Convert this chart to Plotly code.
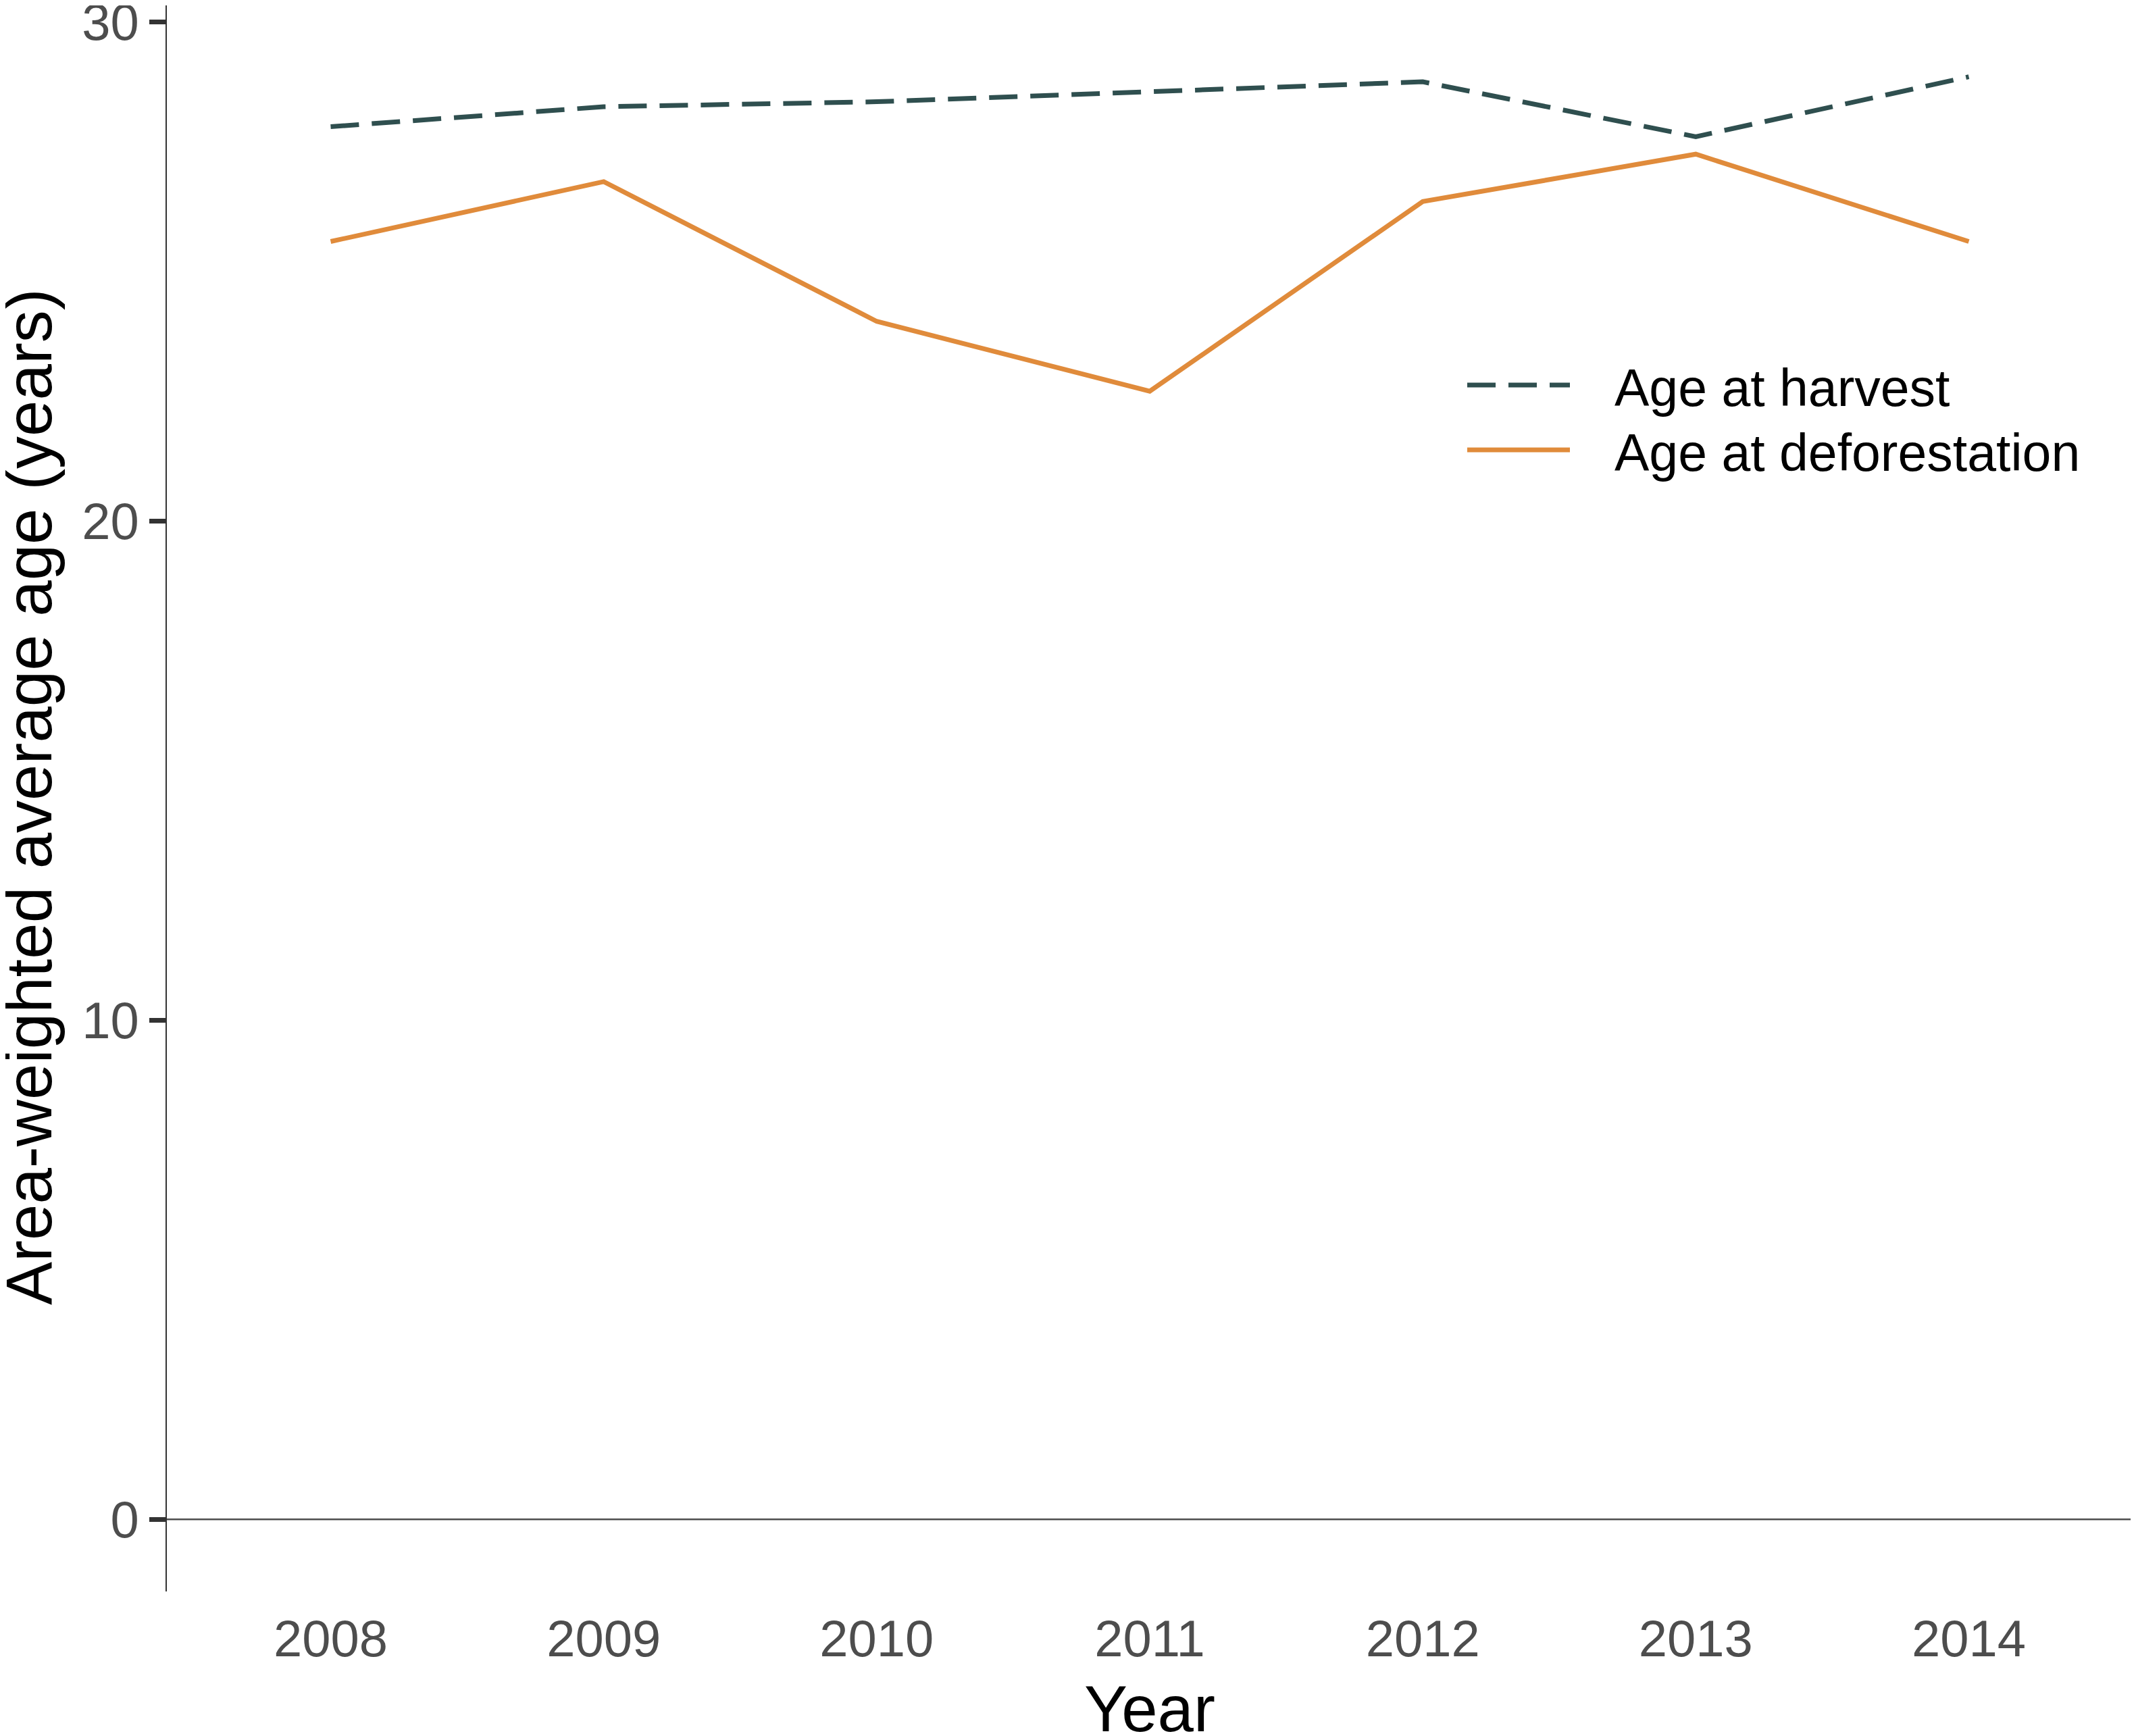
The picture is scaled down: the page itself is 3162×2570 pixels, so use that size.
import plotly.graph_objects as go

# ---- data ----
years = [2008, 2009, 2010, 2011, 2012, 2013, 2014]
age_at_harvest = [27.9, 28.3, 28.4, 28.6, 28.8, 27.7, 28.9]
age_at_deforestation = [25.6, 26.8, 24.0, 22.6, 26.4, 27.35, 25.6]
series_names = ["Age at harvest", "Age at deforestation"]
y_ticks = [0, 10, 20, 30]
x_title = "Year"
y_title = "Area-weighted average age (years)"

HARVEST_COLOR = "#2F4F4F"
DEFOR_COLOR = "#E08B3B"
FONT = "Liberation Sans, Arial, Helvetica, sans-serif"
LW = 7

# page body has an 8px margin; size the figure so the screenshot lines up
OFF = 8
W, H = 3162 - OFF, 2570 - OFF
ML, MR, MT, MB = 247 - OFF, 5, 0, 214
PW, PH = W - ML - MR, H - MT - MB


def px_to_paper(sx, sy):
    fx, fy = sx - OFF, sy - OFF
    return (fx - ML) / PW, (H - MB - fy) / PH


fig = go.Figure()

fig.add_hline(y=0, line=dict(color="#4D4D4D", width=2.5), layer="below")

fig.add_trace(go.Scatter(
    x=years, y=age_at_harvest, mode="lines", name=series_names[0],
    line=dict(color=HARVEST_COLOR, width=LW, dash="42px,19px"),
    showlegend=False,
))
fig.add_trace(go.Scatter(
    x=years, y=age_at_deforestation, mode="lines", name=series_names[1],
    line=dict(color=DEFOR_COLOR, width=LW),
    showlegend=False,
))

# ---- legend (key lines + text, ggplot style) ----
legend_rows = [
    (series_names[0], HARVEST_COLOR, "42px,19px", 570),
    (series_names[1], DEFOR_COLOR, "solid", 666),
]
for label, color, dash, sy in legend_rows:
    x0, yy = px_to_paper(2172, sy)
    x1, _ = px_to_paper(2324, sy)
    fig.add_shape(type="line", xref="paper", yref="paper",
                  x0=x0, x1=x1, y0=yy, y1=yy,
                  line=dict(color=color, width=LW, dash=dash))
    tx, ty = px_to_paper(2388, sy + 4)
    fig.add_annotation(xref="paper", yref="paper", x=tx, y=ty,
                       text=label, showarrow=False,
                       xanchor="left", yanchor="middle",
                       font=dict(family=FONT, size=77, color="black"))

# ---- axis titles ----
ax_x, ax_y = px_to_paper(1702, 2530)
fig.add_annotation(xref="paper", yref="paper", x=ax_x, y=ax_y,
                   text=x_title, showarrow=False,
                   xanchor="center", yanchor="middle",
                   font=dict(family=FONT, size=96, color="black"))
ay_x, ay_y = px_to_paper(42, 1180)
fig.add_annotation(xref="paper", yref="paper", x=ay_x, y=ay_y,
                   text=y_title, showarrow=False, textangle=-90,
                   xanchor="center", yanchor="middle",
                   font=dict(family=FONT, size=96, color="black"))

fig.update_layout(
    width=W, height=H,
    margin=dict(l=ML, r=MR, t=MT, b=MB, pad=0, autoexpand=False),
    paper_bgcolor="white", plot_bgcolor="white",
    font=dict(family=FONT, color="black"),
    showlegend=False,
)

fig.update_xaxes(
    automargin=False,
    range=[years[0] - 0.6, years[-1] + 0.6],
    tickmode="array", tickvals=years, ticktext=[str(y) for y in years],
    showgrid=False, zeroline=False, showline=False,
    ticks="outside", ticklen=4, tickcolor="rgba(0,0,0,0)",
    tickfont=dict(family=FONT, size=76, color="#4D4D4D"),
)

fig.update_yaxes(
    automargin=False,
    range=[-1.445, 30.33],
    tickmode="array", tickvals=y_ticks,
    showgrid=False, zeroline=False,
    showline=True, linecolor="#333333", linewidth=2,
    ticks="outside", ticklen=24, tickwidth=7, tickcolor="#333333",
    ticklabeloverflow="allow",
    tickfont=dict(family=FONT, size=76, color="#4D4D4D"),
)

fig.write_html("out.html")
